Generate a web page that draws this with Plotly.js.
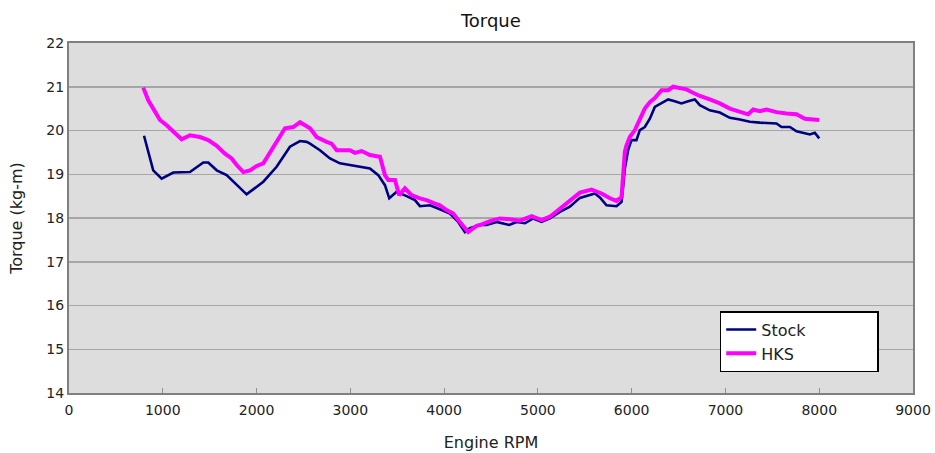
<!DOCTYPE html>
<html>
<head>
<meta charset="utf-8">
<script src="https://cdn.plot.ly/plotly-3.0.1.min.js"></script>
<style>html,body{margin:0;padding:0;background:#fff;}#chart{width:935px;height:453px;}</style>
</head>
<body>
<div id="chart"></div>
<script>
const stockRpm = [800, 898, 988, 1112, 1290, 1432, 1485, 1575, 1681, 1788, 1894, 2072, 2214, 2356, 2463, 2534, 2570, 2676, 2783, 2889, 2996, 3102, 3209, 3298, 3369, 3415, 3494, 3600, 3689, 3742, 3849, 3955, 4062, 4150, 4222, 4275, 4382, 4453, 4560, 4694, 4773, 4862, 4950, 5039, 5128, 5235, 5341, 5448, 5554, 5608, 5661, 5732, 5839, 5892, 5909, 5927, 5962, 5998, 6051, 6087, 6140, 6194, 6247, 6318, 6389, 6460, 6531, 6602, 6673, 6727, 6833, 6940, 7047, 7154, 7260, 7367, 7473, 7544, 7598, 7687, 7758, 7829, 7900, 7953, 8000];
const stockTorque = [19.88, 19.09, 18.90, 19.04, 19.05, 19.27, 19.27, 19.09, 18.98, 18.75, 18.54, 18.83, 19.17, 19.63, 19.76, 19.74, 19.70, 19.55, 19.36, 19.25, 19.21, 19.16, 19.13, 18.98, 18.75, 18.45, 18.60, 18.50, 18.41, 18.27, 18.29, 18.20, 18.10, 17.91, 17.68, 17.77, 17.84, 17.84, 17.91, 17.84, 17.91, 17.88, 17.99, 17.91, 17.99, 18.14, 18.26, 18.46, 18.52, 18.56, 18.47, 18.29, 18.27, 18.37, 18.71, 19.13, 19.55, 19.78, 19.78, 20.01, 20.08, 20.27, 20.54, 20.62, 20.71, 20.67, 20.62, 20.67, 20.71, 20.58, 20.46, 20.41, 20.29, 20.25, 20.20, 20.18, 20.16, 20.16, 20.08, 20.08, 19.98, 19.95, 19.91, 19.95, 19.82];

const hksRpm = [792, 845, 898, 970, 1041, 1112, 1201, 1290, 1396, 1485, 1575, 1663, 1734, 1788, 1859, 1930, 2001, 2072, 2178, 2303, 2392, 2463, 2570, 2641, 2747, 2800, 2854, 2996, 3049, 3120, 3209, 3316, 3369, 3404, 3476, 3521, 3582, 3653, 3742, 3813, 3902, 3955, 4026, 4097, 4168, 4257, 4346, 4382, 4489, 4595, 4702, 4808, 4933, 5039, 5128, 5235, 5341, 5448, 5572, 5679, 5768, 5839, 5892, 5909, 5927, 5945, 5980, 6034, 6087, 6140, 6194, 6247, 6318, 6389, 6442, 6513, 6584, 6638, 6727, 6833, 6940, 7047, 7154, 7242, 7296, 7367, 7438, 7544, 7651, 7758, 7846, 7935, 8000];
const hksTorque = [20.98, 20.69, 20.50, 20.24, 20.12, 19.97, 19.80, 19.89, 19.85, 19.78, 19.65, 19.47, 19.36, 19.21, 19.05, 19.09, 19.19, 19.25, 19.63, 20.05, 20.08, 20.19, 20.05, 19.85, 19.74, 19.70, 19.55, 19.55, 19.49, 19.53, 19.44, 19.40, 18.98, 18.87, 18.87, 18.52, 18.68, 18.52, 18.45, 18.41, 18.33, 18.29, 18.18, 18.10, 17.91, 17.68, 17.82, 17.84, 17.93, 17.99, 17.97, 17.94, 18.04, 17.95, 18.03, 18.22, 18.41, 18.58, 18.65, 18.56, 18.45, 18.39, 18.48, 19.02, 19.51, 19.66, 19.85, 20.01, 20.24, 20.50, 20.65, 20.74, 20.92, 20.92, 21.00, 20.96, 20.94, 20.88, 20.79, 20.71, 20.62, 20.50, 20.44, 20.37, 20.48, 20.44, 20.48, 20.42, 20.39, 20.37, 20.27, 20.25, 20.24];

const seriesNames = ['Stock', 'HKS'];
const chartTitle = 'Torque';
const xTitle = 'Engine RPM';
const yTitle = 'Torque (kg-m)';
const xTicks = [0, 1000, 2000, 3000, 4000, 5000, 6000, 7000, 8000, 9000];
const yTicks = [14, 15, 16, 17, 18, 19, 20, 21, 22];

const pad = '\u00a0'.repeat(13);
const FONT = 'DejaVu Sans, Verdana, sans-serif';

const traces = [
  {x: stockRpm, y: stockTorque, name: seriesNames[0] + pad, type: 'scatter', mode: 'lines',
   line: {color: '#000080', width: 2.6}},
  {x: hksRpm, y: hksTorque, name: seriesNames[1] + pad, type: 'scatter', mode: 'lines',
   line: {color: '#ff00ff', width: 4}}
];

const layout = {
  width: 935, height: 453,
  margin: {l: 69, r: 22, t: 43, b: 60},
  paper_bgcolor: '#ffffff',
  plot_bgcolor: '#dddddd',
  font: {family: FONT, color: '#222222', size: 14},
  title: {text: chartTitle, font: {family: FONT, size: 18, color: '#111'}, x: 0.525, xanchor: 'center', y: 0.955, yanchor: 'middle', xref: 'container', yref: 'container'},
  showlegend: true,
  legend: {x: 0.771, y: 0.234, xanchor: 'left', yanchor: 'top', bgcolor: '#ffffff', bordercolor: '#000000', borderwidth: 1.5,
           font: {family: FONT, size: 16, color: '#222'}, tracegroupgap: 4},
  xaxis: {
    range: [0, 9000], tickvals: xTicks, ticktext: xTicks.map(String),
    showgrid: false, zeroline: false,
    showline: true, linecolor: '#808080', linewidth: 2, mirror: true,
    ticks: 'inside', ticklen: 5, tickcolor: '#909090', tickwidth: 1,
    ticklabelstandoff: 3,
    tickfont: {family: FONT, size: 14, color: '#222'},
    title: {text: xTitle, font: {family: FONT, size: 16, color: '#222'}, standoff: 20}
  },
  yaxis: {
    range: [14, 22], tickvals: yTicks, ticktext: yTicks.map(String),
    showgrid: true, gridcolor: '#a6a6a6', gridwidth: 1.5, zeroline: false,
    showline: true, linecolor: '#808080', linewidth: 2, mirror: true,
    ticks: '', tickfont: {family: FONT, size: 14, color: '#222'},
    title: {text: yTitle, font: {family: FONT, size: 16, color: '#222'}, standoff: 20}
  }
};

Plotly.newPlot('chart', traces, layout, {displayModeBar: false, staticPlot: true});
</script>
</body>
</html>
